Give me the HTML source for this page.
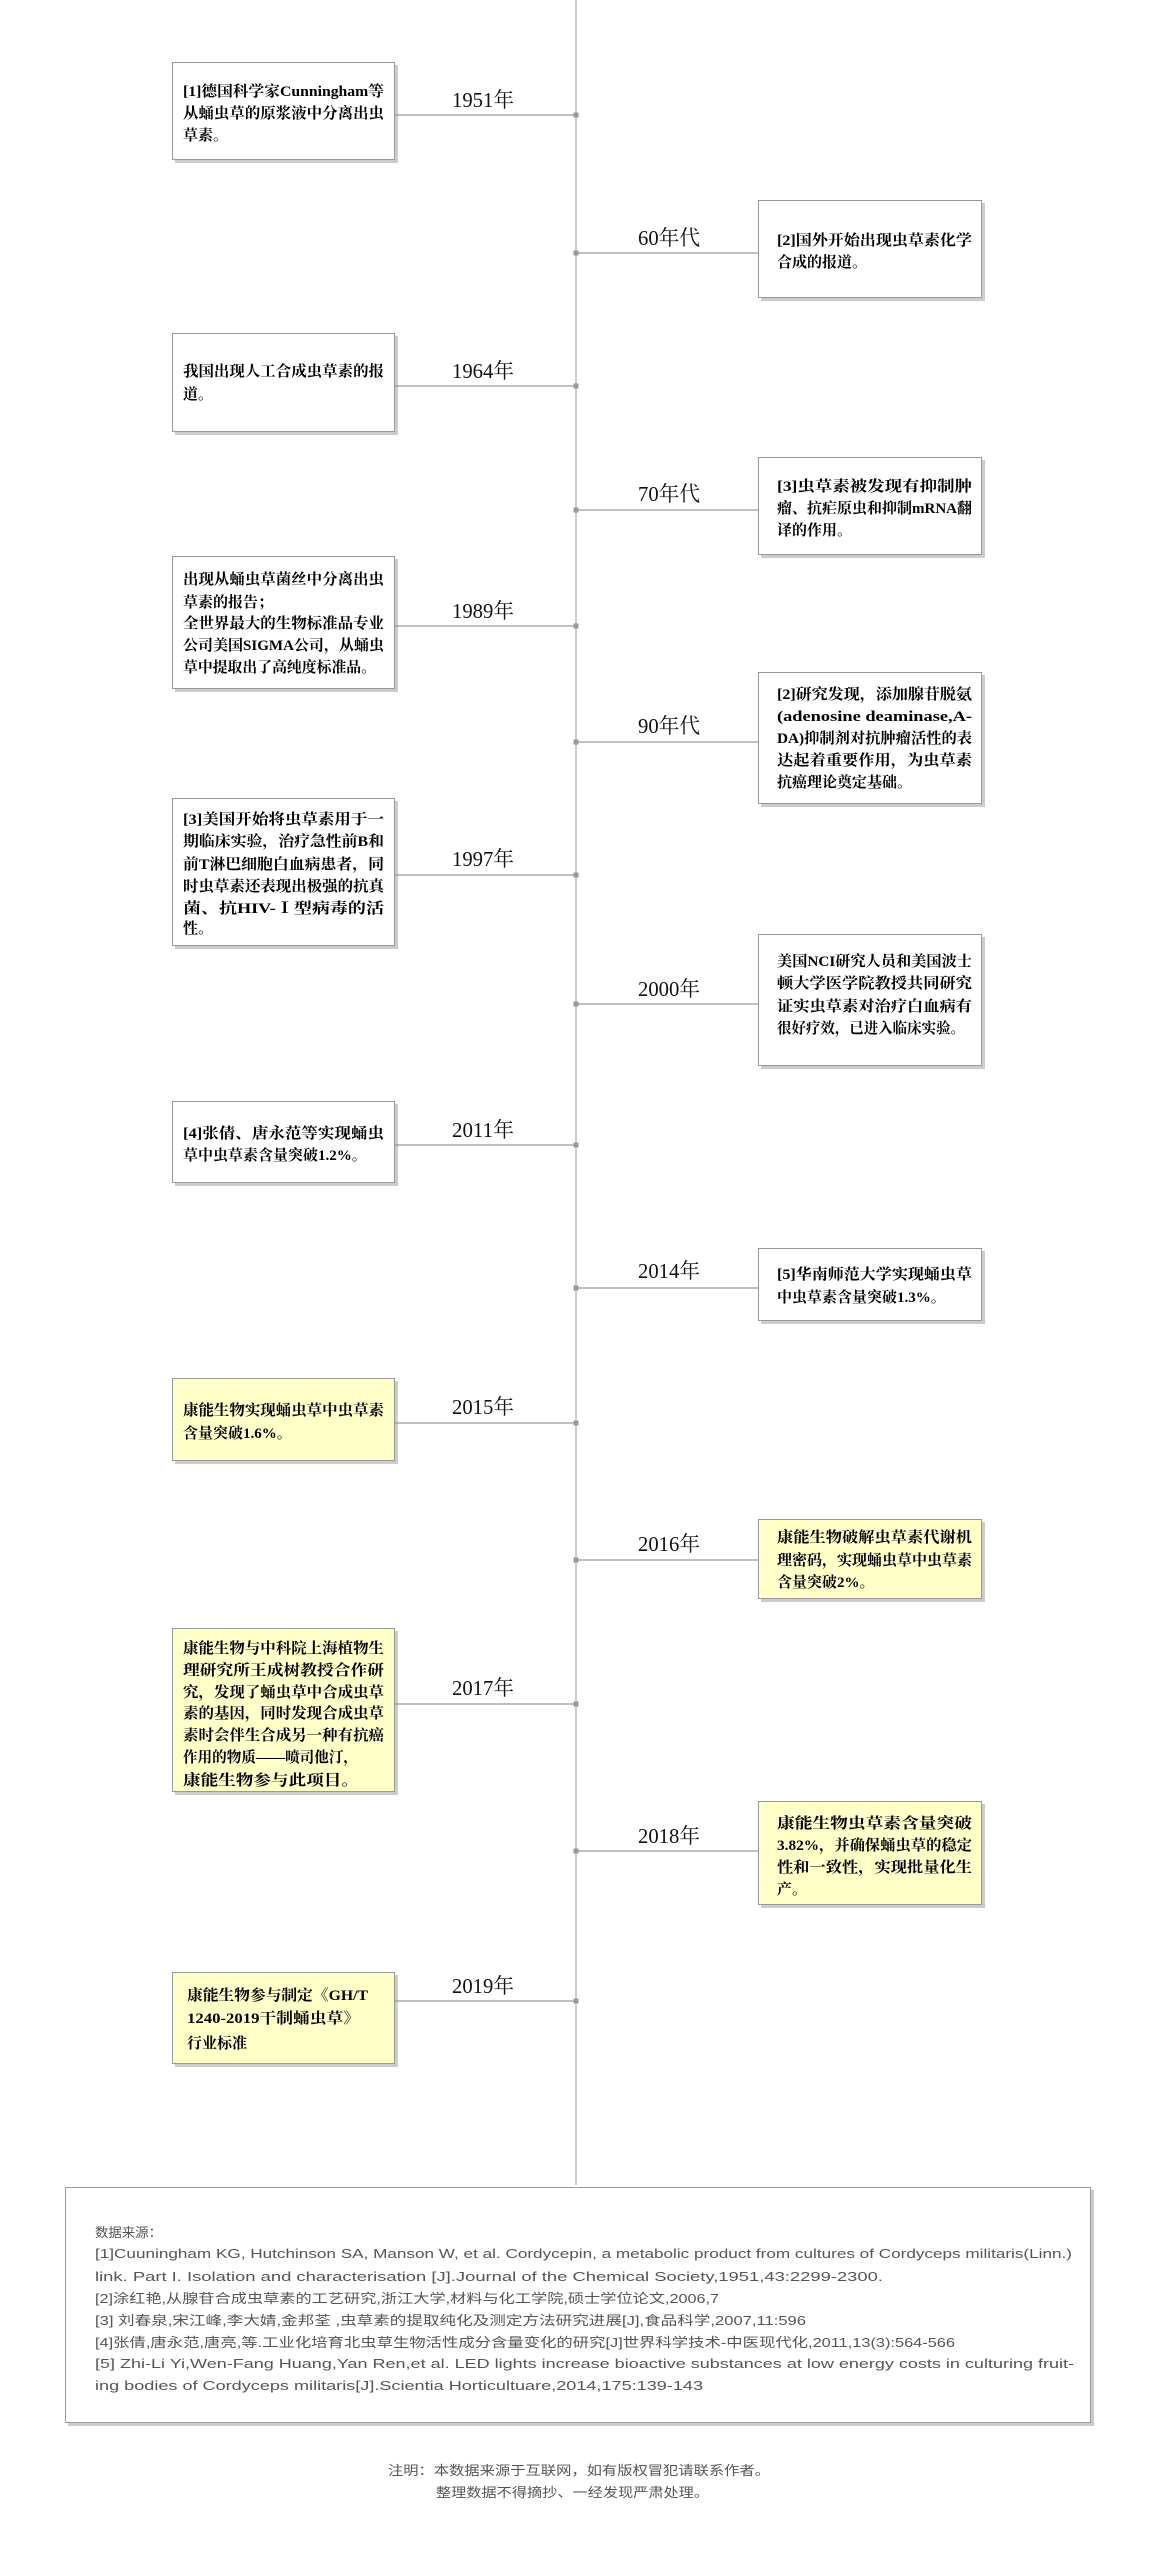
<!DOCTYPE html>
<html><head><meta charset="utf-8"><style>
html,body{margin:0;padding:0;background:#fff;width:1151px;height:2551px;overflow:hidden}
svg{display:block}
.t{font-family:"Liberation Serif","Noto Serif CJK SC",serif;font-size:15px;fill:#000;font-weight:bold}
.y{font-family:"Liberation Serif","Noto Serif CJK SC",serif;font-size:21px;fill:#111}
.r{font-family:"Liberation Sans Narrow","Liberation Sans","Noto Sans CJK SC",sans-serif;font-size:13px;fill:#555}
</style></head><body>
<svg width="1151" height="2551" viewBox="0 0 1151 2551" xmlns="http://www.w3.org/2000/svg">
<defs>
<g id="dot"><rect x="-2.5" y="-2.5" width="5" height="5" fill="#999"/></g>
</defs>
<line x1="576" y1="0" x2="576" y2="2185" stroke="#aaa" stroke-width="1.2"/>

<g stroke="none" fill="#ccc">
<rect x="175" y="65" width="223" height="98"/>
<rect x="761" y="203" width="224" height="98"/>
<rect x="175" y="336" width="223" height="99"/>
<rect x="761" y="460" width="224" height="98"/>
<rect x="175" y="559" width="223" height="133"/>
<rect x="761" y="675" width="224" height="132"/>
<rect x="175" y="801" width="223" height="148"/>
<rect x="761" y="937" width="224" height="132"/>
<rect x="175" y="1104" width="223" height="82"/>
<rect x="761" y="1251" width="224" height="73"/>
<rect x="175" y="1381" width="223" height="83"/>
<rect x="761" y="1522" width="224" height="80"/>
<rect x="175" y="1631" width="223" height="164"/>
<rect x="761" y="1804" width="224" height="104"/>
<rect x="175" y="1975" width="223" height="92"/>
</g>
<g stroke="#999" stroke-width="1">
<rect x="172.5" y="62.5" width="222" height="97" fill="#fff"/>
<rect x="758.5" y="200.5" width="223" height="97" fill="#fff"/>
<rect x="172.5" y="333.5" width="222" height="98" fill="#fff"/>
<rect x="758.5" y="457.5" width="223" height="97" fill="#fff"/>
<rect x="172.5" y="556.5" width="222" height="132" fill="#fff"/>
<rect x="758.5" y="672.5" width="223" height="131" fill="#fff"/>
<rect x="172.5" y="798.5" width="222" height="147" fill="#fff"/>
<rect x="758.5" y="934.5" width="223" height="131" fill="#fff"/>
<rect x="172.5" y="1101.5" width="222" height="81" fill="#fff"/>
<rect x="758.5" y="1248.5" width="223" height="72" fill="#fff"/>
<rect x="172.5" y="1378.5" width="222" height="82" fill="#ffffc8"/>
<rect x="758.5" y="1519.5" width="223" height="79" fill="#ffffc8"/>
<rect x="172.5" y="1628.5" width="222" height="163" fill="#ffffc8"/>
<rect x="758.5" y="1801.5" width="223" height="103" fill="#ffffc8"/>
<rect x="172.5" y="1972.5" width="222" height="91" fill="#ffffc8"/>
</g>

<g stroke="#999" stroke-width="1.3">
<line x1="395" y1="115" x2="576" y2="115"/>
<line x1="576" y1="253" x2="758" y2="253"/>
<line x1="395" y1="386" x2="576" y2="386"/>
<line x1="576" y1="510" x2="758" y2="510"/>
<line x1="395" y1="626" x2="576" y2="626"/>
<line x1="576" y1="742" x2="758" y2="742"/>
<line x1="395" y1="875" x2="576" y2="875"/>
<line x1="576" y1="1004" x2="758" y2="1004"/>
<line x1="395" y1="1145" x2="576" y2="1145"/>
<line x1="576" y1="1288" x2="758" y2="1288"/>
<line x1="395" y1="1423" x2="576" y2="1423"/>
<line x1="576" y1="1560" x2="758" y2="1560"/>
<line x1="395" y1="1704" x2="576" y2="1704"/>
<line x1="576" y1="1851" x2="758" y2="1851"/>
<line x1="395" y1="2001" x2="576" y2="2001"/>
</g>
<g>
<use href="#dot" x="576" y="115"/><use href="#dot" x="576" y="253"/><use href="#dot" x="576" y="386"/>
<use href="#dot" x="576" y="510"/><use href="#dot" x="576" y="626"/><use href="#dot" x="576" y="742"/>
<use href="#dot" x="576" y="875"/><use href="#dot" x="576" y="1004"/><use href="#dot" x="576" y="1145"/>
<use href="#dot" x="576" y="1288"/><use href="#dot" x="576" y="1423"/><use href="#dot" x="576" y="1560"/>
<use href="#dot" x="576" y="1704"/><use href="#dot" x="576" y="1851"/><use href="#dot" x="576" y="2001"/>
</g>

<g class="y" text-anchor="middle">
<text x="483" y="107" textLength="62" lengthAdjust="spacingAndGlyphs">1951年</text>
<text x="669" y="245" textLength="62" lengthAdjust="spacingAndGlyphs">60年代</text>
<text x="483" y="378" textLength="62" lengthAdjust="spacingAndGlyphs">1964年</text>
<text x="669" y="501" textLength="62" lengthAdjust="spacingAndGlyphs">70年代</text>
<text x="483" y="618" textLength="62" lengthAdjust="spacingAndGlyphs">1989年</text>
<text x="669" y="733" textLength="62" lengthAdjust="spacingAndGlyphs">90年代</text>
<text x="483" y="866" textLength="62" lengthAdjust="spacingAndGlyphs">1997年</text>
<text x="669" y="996" textLength="62" lengthAdjust="spacingAndGlyphs">2000年</text>
<text x="483" y="1137" textLength="62" lengthAdjust="spacingAndGlyphs">2011年</text>
<text x="669" y="1278" textLength="62" lengthAdjust="spacingAndGlyphs">2014年</text>
<text x="483" y="1414" textLength="62" lengthAdjust="spacingAndGlyphs">2015年</text>
<text x="669" y="1551" textLength="62" lengthAdjust="spacingAndGlyphs">2016年</text>
<text x="483" y="1695" textLength="62" lengthAdjust="spacingAndGlyphs">2017年</text>
<text x="669" y="1843" textLength="62" lengthAdjust="spacingAndGlyphs">2018年</text>
<text x="483" y="1993" textLength="62" lengthAdjust="spacingAndGlyphs">2019年</text>
</g>

<g class="t">
<text x="183" y="96" textLength="201" lengthAdjust="spacingAndGlyphs">[1]德国科学家Cunningham等</text>
<text x="183" y="118" textLength="201" lengthAdjust="spacingAndGlyphs">从蛹虫草的原浆液中分离出虫</text>
<text x="183" y="140">草素。</text>

<text x="777" y="245" textLength="195" lengthAdjust="spacingAndGlyphs">[2]国外开始出现虫草素化学</text>
<text x="777" y="267">合成的报道。</text>

<text x="183" y="376" textLength="201" lengthAdjust="spacingAndGlyphs">我国出现人工合成虫草素的报</text>
<text x="183" y="399">道。</text>

<text x="777" y="491" textLength="195" lengthAdjust="spacingAndGlyphs">[3]虫草素被发现有抑制肿</text>
<text x="777" y="513" textLength="195" lengthAdjust="spacingAndGlyphs">瘤、抗疟原虫和抑制mRNA翻</text>
<text x="777" y="535">译的作用。</text>

<text x="183" y="584" textLength="201" lengthAdjust="spacingAndGlyphs">出现从蛹虫草菌丝中分离出虫</text>
<text x="183" y="607">草素的报告；</text>
<text x="183" y="628" textLength="201" lengthAdjust="spacingAndGlyphs">全世界最大的生物标准品专业</text>
<text x="183" y="650" textLength="201" lengthAdjust="spacingAndGlyphs">公司美国SIGMA公司，从蛹虫</text>
<text x="183" y="672" textLength="193" lengthAdjust="spacingAndGlyphs">草中提取出了高纯度标准品。</text>

<text x="777" y="699" textLength="195" lengthAdjust="spacingAndGlyphs">[2]研究发现，添加腺苷脱氨</text>
<text x="777" y="721" textLength="195" lengthAdjust="spacingAndGlyphs">(adenosine  deaminase,A-</text>
<text x="777" y="743" textLength="195" lengthAdjust="spacingAndGlyphs">DA)抑制剂对抗肿瘤活性的表</text>
<text x="777" y="765" textLength="195" lengthAdjust="spacingAndGlyphs">达起着重要作用，为虫草素</text>
<text x="777" y="787">抗癌理论奠定基础。</text>

<text x="183" y="824" textLength="201" lengthAdjust="spacingAndGlyphs">[3]美国开始将虫草素用于一</text>
<text x="183" y="846" textLength="201" lengthAdjust="spacingAndGlyphs">期临床实验，治疗急性前B和</text>
<text x="183" y="869" textLength="201" lengthAdjust="spacingAndGlyphs">前T淋巴细胞白血病患者，同</text>
<text x="183" y="891" textLength="201" lengthAdjust="spacingAndGlyphs">时虫草素还表现出极强的抗真</text>
<text x="183" y="913" textLength="201" lengthAdjust="spacingAndGlyphs">菌、抗HIV-Ⅰ型病毒的活</text>
<text x="183" y="933">性。</text>

<text x="777" y="966" textLength="195" lengthAdjust="spacingAndGlyphs">美国NCI研究人员和美国波士</text>
<text x="777" y="988" textLength="195" lengthAdjust="spacingAndGlyphs">顿大学医学院教授共同研究</text>
<text x="777" y="1011" textLength="195" lengthAdjust="spacingAndGlyphs">证实虫草素对治疗白血病有</text>
<text x="777" y="1033" textLength="188" lengthAdjust="spacingAndGlyphs">很好疗效，已进入临床实验。</text>

<text x="183" y="1138" textLength="201" lengthAdjust="spacingAndGlyphs">[4]张倩、唐永范等实现蛹虫</text>
<text x="183" y="1160">草中虫草素含量突破1.2%。</text>

<text x="777" y="1279" textLength="195" lengthAdjust="spacingAndGlyphs">[5]华南师范大学实现蛹虫草</text>
<text x="777" y="1302">中虫草素含量突破1.3%。</text>

<text x="183" y="1415" textLength="201" lengthAdjust="spacingAndGlyphs">康能生物实现蛹虫草中虫草素</text>
<text x="183" y="1438">含量突破1.6%。</text>

<text x="777" y="1542" textLength="195" lengthAdjust="spacingAndGlyphs">康能生物破解虫草素代谢机</text>
<text x="777" y="1565" textLength="195" lengthAdjust="spacingAndGlyphs">理密码，实现蛹虫草中虫草素</text>
<text x="777" y="1587">含量突破2%。</text>

<text x="183" y="1653" textLength="201" lengthAdjust="spacingAndGlyphs">康能生物与中科院上海植物生</text>
<text x="183" y="1675" textLength="201" lengthAdjust="spacingAndGlyphs">理研究所王成树教授合作研</text>
<text x="183" y="1697" textLength="201" lengthAdjust="spacingAndGlyphs">究，发现了蛹虫草中合成虫草</text>
<text x="183" y="1718" textLength="201" lengthAdjust="spacingAndGlyphs">素的基因，同时发现合成虫草</text>
<text x="183" y="1740" textLength="201" lengthAdjust="spacingAndGlyphs">素时会伴生合成另一种有抗癌</text>
<text x="183" y="1762" textLength="175" lengthAdjust="spacingAndGlyphs">作用的物质——喷司他汀，</text>
<text x="183" y="1785" textLength="176" lengthAdjust="spacingAndGlyphs">康能生物参与此项目。</text>

<text x="777" y="1828" textLength="195" lengthAdjust="spacingAndGlyphs">康能生物虫草素含量突破</text>
<text x="777" y="1850" textLength="195" lengthAdjust="spacingAndGlyphs">3.82%，并确保蛹虫草的稳定</text>
<text x="777" y="1872" textLength="195" lengthAdjust="spacingAndGlyphs">性和一致性，实现批量化生</text>
<text x="777" y="1894">产。</text>

<text x="187" y="2000" textLength="181" lengthAdjust="spacingAndGlyphs">康能生物参与制定《GH/T</text>
<text x="187" y="2023" textLength="173" lengthAdjust="spacingAndGlyphs">1240-2019干制蛹虫草》</text>
<text x="187" y="2048">行业标准</text>
</g>

<rect x="68" y="2190" width="1026" height="236" fill="#ccc"/>
<rect x="65.5" y="2187.5" width="1025" height="235" fill="#fff" stroke="#999"/>
<g class="r">
<text x="95" y="2237" textLength="67" lengthAdjust="spacingAndGlyphs">数据来源：</text>
<text x="95" y="2258" textLength="977" lengthAdjust="spacingAndGlyphs">[1]Cuuningham KG, Hutchinson SA, Manson W, et al. Cordycepin, a metabolic product from cultures of Cordyceps militaris(Linn.)</text>
<text x="95" y="2281" textLength="788" lengthAdjust="spacingAndGlyphs">link. Part I. Isolation and characterisation [J].Journal of the Chemical Society,1951,43:2299-2300.</text>
<text x="95" y="2303" textLength="624" lengthAdjust="spacingAndGlyphs">[2]涂红艳,从腺苷合成虫草素的工艺研究,浙江大学,材料与化工学院,硕士学位论文,2006,7</text>
<text x="95" y="2325" textLength="711" lengthAdjust="spacingAndGlyphs">[3] 刘春泉,宋江峰,李大婧,金邦荃 ,虫草素的提取纯化及测定方法研究进展[J],食品科学,2007,11:596</text>
<text x="95" y="2347" textLength="860" lengthAdjust="spacingAndGlyphs">[4]张倩,唐永范,唐亮,等.工业化培育北虫草生物活性成分含量变化的研究[J]世界科学技术-中医现代化,2011,13(3):564-566</text>
<text x="95" y="2368" textLength="979" lengthAdjust="spacingAndGlyphs">[5] Zhi-Li Yi,Wen-Fang Huang,Yan Ren,et al. LED lights increase bioactive substances at low energy costs in culturing fruit-</text>
<text x="95" y="2390" textLength="608" lengthAdjust="spacingAndGlyphs">ing bodies of Cordyceps militaris[J].Scientia Horticultuare,2014,175:139-143</text>
</g>
<g class="r" font-size="14">
<text x="388" y="2475" textLength="382" lengthAdjust="spacingAndGlyphs">注明：本数据来源于互联网，如有版权冒犯请联系作者。</text>
<text x="436" y="2497" textLength="273" lengthAdjust="spacingAndGlyphs">整理数据不得摘抄、一经发现严肃处理。</text>
</g>
</svg>
</body></html>
